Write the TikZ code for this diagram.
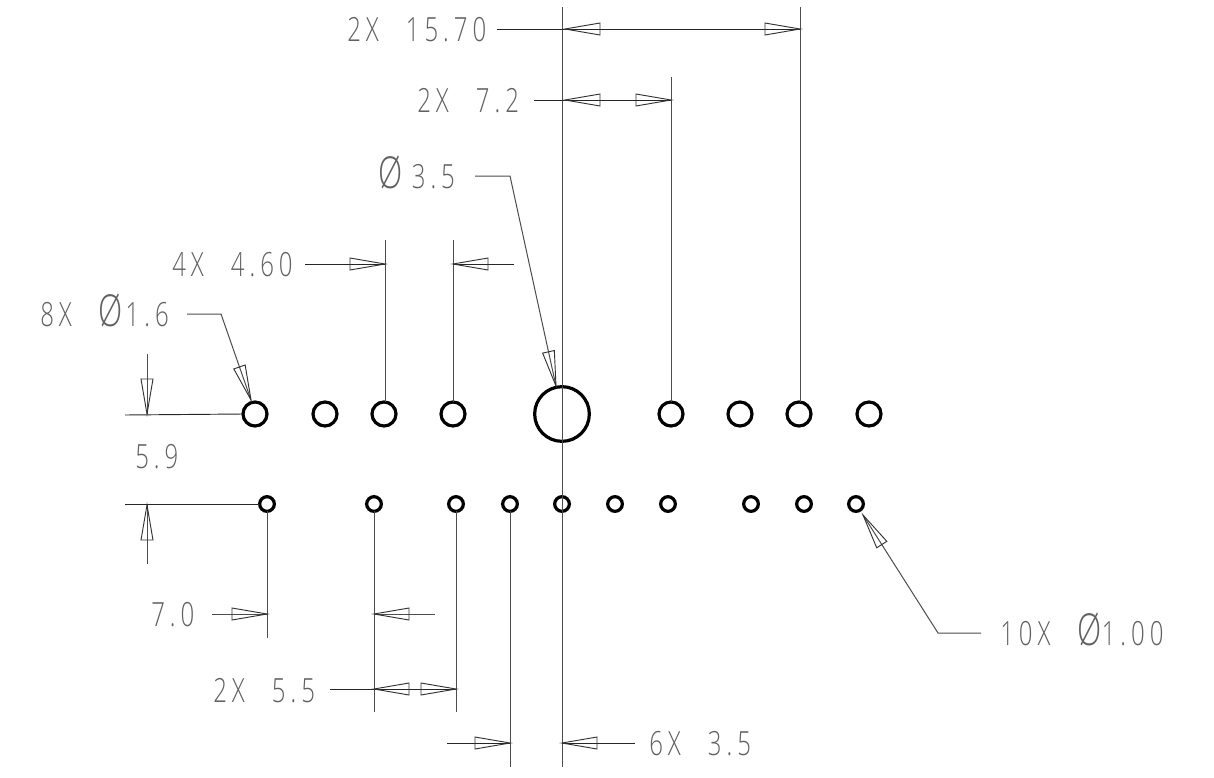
\documentclass[tikz,border=0pt]{standalone}
\usepackage{fontspec}
\newfontfamily\lab[FakeStretch=0.72,LetterSpace=15,WordSpace=2.4]{Open Sans Light}
\newcommand{\bigdia}{\fontsize{33}{25}\selectfont}
\tikzset{
  px/.style={x=0.75pt,y=-0.75pt},
  hole/.style={draw=black,line width=2.4pt,circle,inner sep=0pt,outer sep=0pt,fill=none},
  bighole/.style={hole,minimum size=41pt,line width=2.4pt},
  midhole/.style={hole,minimum size=18pt},
  smallhole/.style={hole,minimum size=11pt},
  dimline/.style={draw=black!85,line width=0.7pt},
  extline/.style={draw=black!70,line width=0.75pt},
  headline/.style={draw=black!80,line width=0.7pt},
  lbl/.style={anchor=base west,inner sep=0pt,text=black!62,font=\lab\fontsize{25}{25}\selectfont}
}
\newcommand{\headat}[2]{\draw[headline,shift={(#1)},rotate=#2] (0,0)--(35,6)--(35,-6)--cycle;}
\begin{document}
\begin{tikzpicture}[px]
\useasboundingbox (0,0) rectangle (1214,778);
% upper row of holes
\node[bighole] (C) at (562,414) {};
\foreach \n/\x in {a/255,b/325,c/384,d/453,e/671,f/740,g/799,h/869}
  \node[midhole] (u\n) at (\x,414) {};
% lower row of holes
\foreach \n/\x in {a/267,b/374,c/456,d/510,e/562,f/615,g/668,h/751,i/804,j/856}
  \node[smallhole] (l\n) at (\x,504) {};
% extension lines
\coordinate (top1) at (562,7);
\coordinate (bot1) at (562,767);
\draw[extline] (top1) -- (bot1);
\coordinate (t2) at (800,7);   \draw[extline] (t2) -- (800,402);
\coordinate (t3) at (671,77);  \draw[extline] (t3) -- (ue.north);
\coordinate (t4) at (385,240); \draw[extline] (t4) -- (385,402);
\coordinate (t5) at (453,240); \draw[extline] (t5) -- (ud.north);
\coordinate (b1) at (267,638); \draw[extline] (la.south) -- (b1);
\coordinate (b2) at (374,712); \draw[extline] (lb.south) -- (b2);
\coordinate (b3) at (456,712); \draw[extline] (lc.south) -- (b3);
\coordinate (b4) at (510,767); \draw[extline] (ld.south) -- (b4);
% 2X 15.70
\node[lbl] (n1) at (347,41) {2X 15.70};
\coordinate (n1e) at (497,29);
\draw[dimline] (n1e) -- (800,29);
\headat{565,29}{0}\headat{800,29}{180}
% 2X 7.2
\node[lbl] (n2) at (417,112) {2X 7.2};
\coordinate (n2e) at (534,100);
\draw[dimline] (n2e) -- (671,100);
\headat{565,100}{0}\headat{671,100}{180}
% dia 3.5
\node[lbl] (n3) at (378,188) {{\bigdia Ø}\kern7pt 3.5};
\coordinate (n3e) at (475,176);
\coordinate (n3k) at (510,176);
\coordinate (n3t) at (556,386);
\draw[extline] (n3e) -- (n3k) -- (n3t);
\headat{556,386}{102.4}
% 4X 4.60
\node[lbl] (n4) at (172,276) {4X 4.60};
\coordinate (n4e) at (305,264);
\draw[dimline] (n4e) -- (385,264);
\headat{385,264}{180}
\coordinate (n4f) at (514,264);
\draw[dimline] (453,264) -- (n4f);
\headat{453,264}{0}
% 8X dia 1.6
\node[lbl] (n5) at (40,326) {8X {\bigdia Ø}\kern2pt 1.6};
\coordinate (n5e) at (187,314);
\coordinate (n5k) at (221,314);
\coordinate (n5t) at (251,400);
\draw[extline] (n5e) -- (n5k) -- (n5t);
\headat{251,400}{109.2}
% 5.9
\node[lbl] (n6) at (135,468) {5.9};
\coordinate (h1) at (125,415);
\coordinate (h2) at (125,504);
\coordinate (v1) at (147,354);
\coordinate (v2) at (147,564);
\draw[dimline] (h1) -- (ua.west);
\draw[dimline] (h2) -- (la.west);
\draw[extline] (v1) -- (147,414);
\draw[extline] (v2) -- (147,505);
\headat{147,414}{90}\headat{147,505}{-90}
% 7.0
\node[lbl] (n7) at (151,626) {7.0};
\coordinate (n7e) at (212,614);
\draw[extline] (n7e) -- (267,614);
\headat{267,614}{180}
\coordinate (n7f) at (435,614);
\draw[extline] (374,614) -- (n7f);
\headat{374,614}{0}
% 2X 5.5
\node[lbl] (n8) at (213,702) {2X 5.5};
\coordinate (n8e) at (330,689);
\draw[dimline] (n8e) -- (456,689);
\headat{374,689}{0}\headat{456,689}{180}
% 6X 3.5
\node[lbl] (n9) at (649,755) {6X 3.5};
\coordinate (n9e) at (635,743);
\coordinate (n9f) at (447,743);
\draw[dimline] (n9f) -- (510,743);
\draw[dimline] (562,743) -- (n9e);
\headat{510,743}{180}\headat{562,743}{0}
% 10X dia 1.00
\node[lbl] (n10) at (1000,645) {10X {\bigdia Ø}1.00};
\coordinate (n10e) at (981,633);
\coordinate (n10k) at (938,633);
\coordinate (n10t) at (863,515);
\draw[extline] (n10e) -- (n10k) -- (n10t);
\headat{863,515}{-57.6}
\end{tikzpicture}
\end{document}
